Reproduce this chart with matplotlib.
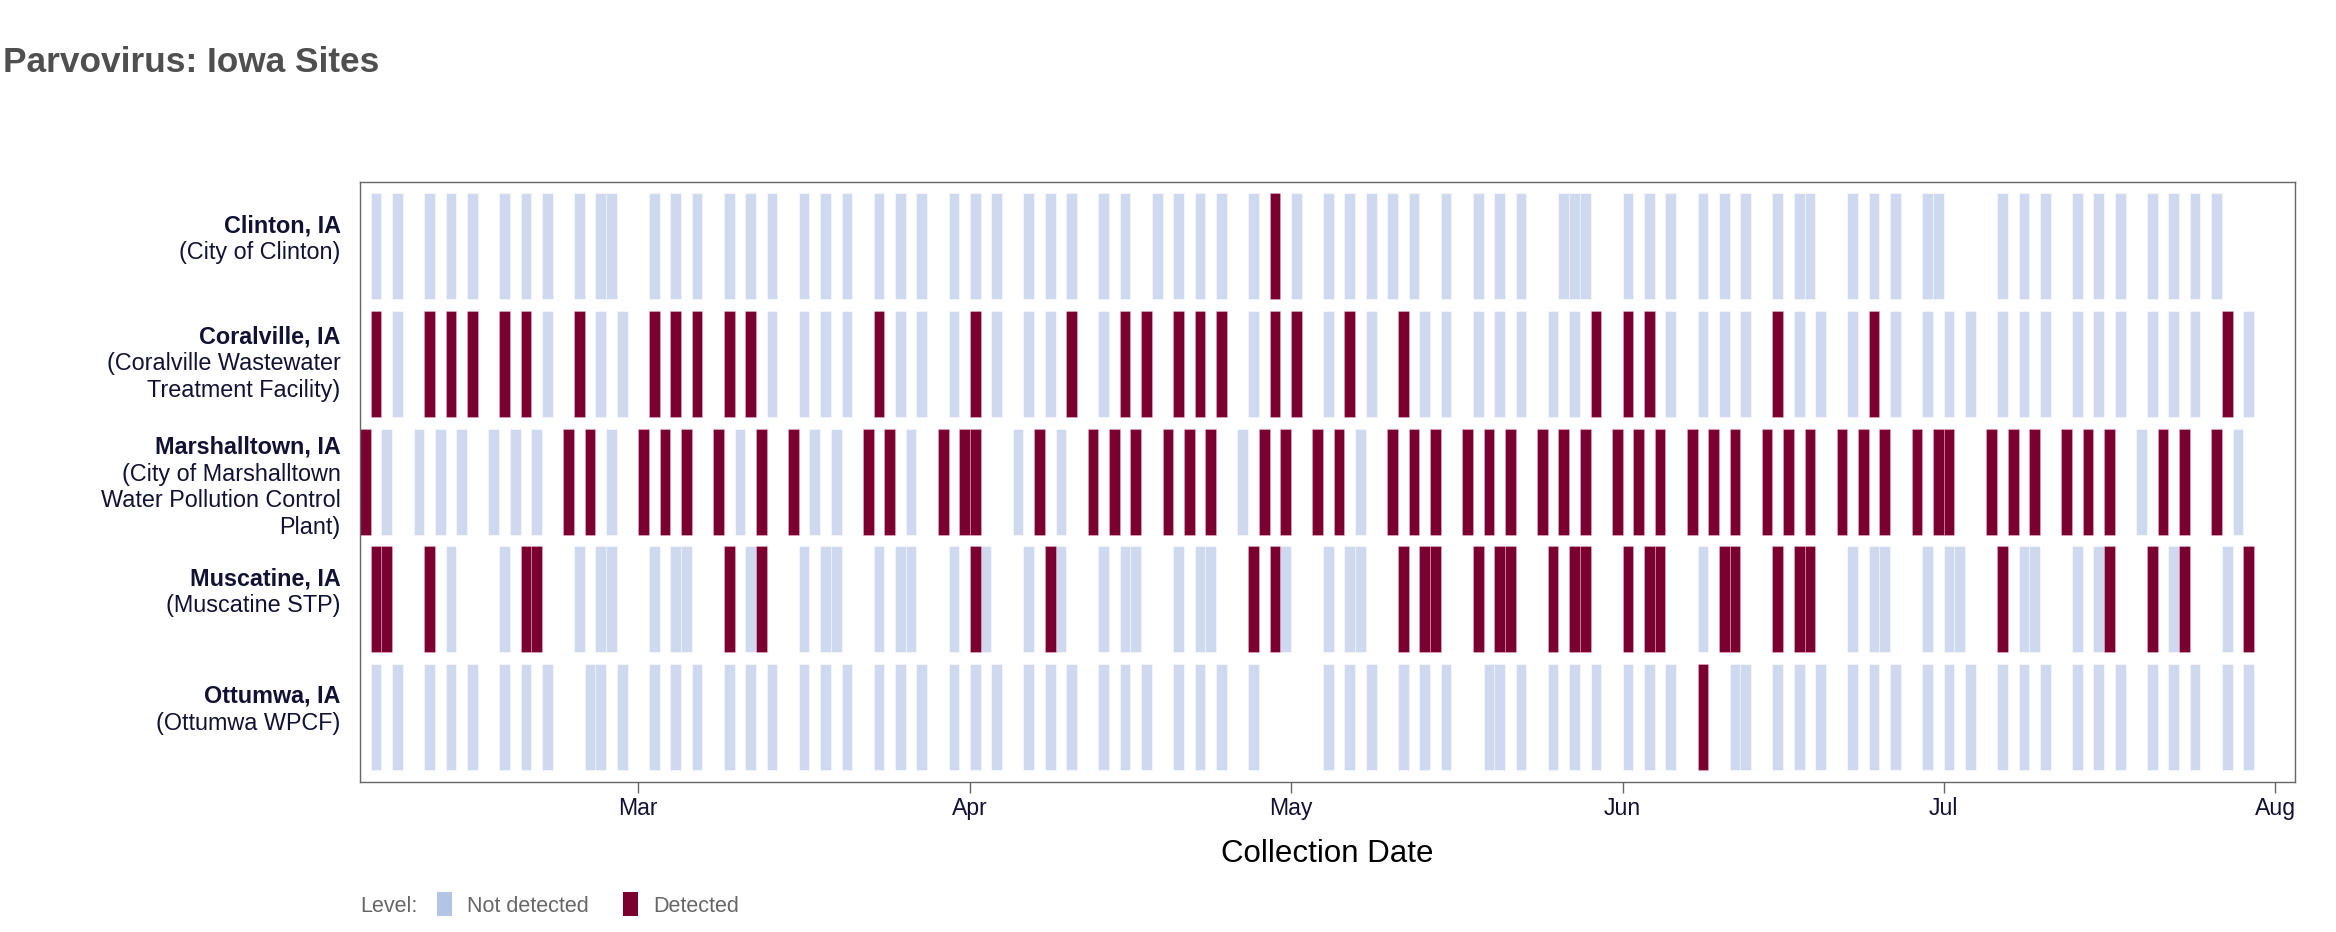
import numpy as np
import matplotlib
matplotlib.use('Agg')
import matplotlib.pyplot as plt
import matplotlib.dates as mdates
import matplotlib.transforms as mtrans
from matplotlib.patches import Rectangle

plt.rcParams['font.family'] = ['Liberation Sans', 'DejaVu Sans']

# ---------------- data ----------------
START_DATE = np.datetime64('2024-02-05')   # collection days below are offsets from this date

sites = ["Clinton, IA", "Coralville, IA", "Marshalltown, IA", "Muscatine, IA", "Ottumwa, IA"]
site_details = ["(City of Clinton)",
                "(Coralville Wastewater\nTreatment Facility)",
                "(City of Marshalltown\nWater Pollution Control\nPlant)",
                "(Muscatine STP)",
                "(Ottumwa WPCF)"]

clinton_days = [0, 2, 5, 7, 9, 12, 14, 16, 19, 21, 22, 26, 28, 30, 33, 35, 37, 40, 42, 44, 47, 49, 51, 54,
                56, 58, 61, 63, 65, 68, 70, 73, 75, 77, 79, 82, 84, 86, 89, 91, 93, 95, 97, 100, 103, 105,
                107, 111, 112, 113, 117, 119, 121, 124, 126, 128, 131, 133, 134, 138, 140, 142, 145, 146,
                152, 154, 156, 159, 161, 163, 166, 168, 170, 172]
clinton_detected = [84]

coralville_days = [0, 2, 5, 7, 9, 12, 14, 16, 19, 21, 23, 26, 28, 30, 33, 35, 37, 40, 42, 44, 47, 49, 51,
                   54, 56, 58, 61, 63, 65, 68, 70, 72, 75, 77, 79, 82, 84, 86, 89, 91, 93, 96, 98, 100, 103,
                   105, 107, 110, 112, 114, 117, 119, 121, 124, 126, 128, 131, 133, 135, 138, 140, 142, 145,
                   147, 149, 152, 154, 156, 159, 161, 163, 166, 168, 170, 173, 175]
coralville_detected = [0, 5, 7, 9, 12, 14, 19, 26, 28, 30, 33, 35, 47, 56, 65, 70, 72, 75, 77, 79, 84, 86,
                       91, 96, 114, 117, 119, 131, 140, 173]

marshalltown_days = [-1, 1, 4, 6, 8, 11, 13, 15, 18, 20, 22, 25, 27, 29, 32, 34, 36, 39, 41, 43, 46, 48,
                     50, 53, 55, 56, 60, 62, 64, 67, 69, 71, 74, 76, 78, 81, 83, 85, 88, 90, 92, 95, 97, 99,
                     102, 104, 106, 109, 111, 113, 116, 118, 120, 123, 125, 127, 130, 132, 134, 137, 139,
                     141, 144, 146, 147, 151, 153, 155, 158, 160, 162, 165, 167, 169, 172, 174]
marshalltown_detected = [-1, 18, 20, 25, 27, 29, 32, 36, 39, 46, 48, 53, 55, 56, 62, 67, 69, 71, 74, 76,
                         78, 83, 85, 88, 90, 95, 97, 99, 102, 104, 106, 109, 111, 113, 116, 118, 120, 123,
                         125, 127, 130, 132, 134, 137, 139, 141, 144, 146, 147, 151, 153, 155, 158, 160,
                         162, 167, 169, 172]

muscatine_days = [0, 1, 5, 7, 12, 14, 15, 19, 21, 22, 26, 28, 29, 33, 35, 36, 40, 42, 43, 47, 49, 50, 54,
                  56, 57, 61, 63, 64, 68, 70, 71, 75, 77, 78, 82, 84, 85, 89, 91, 92, 96, 98, 99, 103, 105,
                  106, 110, 112, 113, 117, 119, 120, 124, 126, 127, 131, 133, 134, 138, 140, 141, 145, 147,
                  148, 152, 154, 155, 159, 161, 162, 166, 168, 169, 173, 175]
muscatine_detected = [0, 1, 5, 14, 15, 33, 36, 56, 63, 82, 84, 96, 98, 99, 103, 105, 106, 110, 112, 113,
                      117, 119, 120, 126, 127, 131, 133, 134, 152, 162, 166, 169, 175]

ottumwa_days = [0, 2, 5, 7, 9, 12, 14, 16, 20, 21, 23, 26, 28, 30, 33, 35, 37, 40, 42, 44, 47, 49, 51, 54,
                56, 58, 61, 63, 65, 68, 70, 72, 75, 77, 79, 82, 89, 91, 93, 96, 98, 100, 104, 105, 107, 110,
                112, 114, 117, 119, 121, 124, 127, 128, 131, 133, 135, 138, 140, 142, 145, 147, 149, 152,
                154, 156, 159, 161, 163, 166, 168, 170, 173, 175]
ottumwa_detected = [124]

site_days = [clinton_days, coralville_days, marshalltown_days, muscatine_days, ottumwa_days]
site_detected = [clinton_detected, coralville_detected, marshalltown_detected, muscatine_detected,
                 ottumwa_detected]

month_ticks = ['2024-03-01', '2024-04-01', '2024-05-01', '2024-06-01', '2024-07-01', '2024-08-01']
month_labels = ['Mar', 'Apr', 'May', 'Jun', 'Jul', 'Aug']
x_range = ['2024-02-04T00:00', '2024-08-02T20:10']

level_labels = ['Not detected', 'Detected']

# ---------------- style ----------------
W, H = 2336, 932
C_NOT = '#b4c4e6'
C_DET = '#7a0030'
TXT = '#111133'
AXC = '#666666'

fig = plt.figure(figsize=(W / 100, H / 100), dpi=100)
ax_l, ax_r, ax_t, ax_b = 360, 2295, 181.7, 781.7
ax = fig.add_axes([ax_l / W, 1 - ax_b / H, (ax_r - ax_l) / W, (ax_b - ax_t) / H])

for i, (days, det) in enumerate(zip(site_days, site_detected)):
    days = np.array(days)
    is_det = np.isin(days, det)
    dates = mdates.date2num(START_DATE + days.astype('timedelta64[D]'))
    ax.bar(dates[~is_det], 0.9, width=1, bottom=i - 0.45, align='edge',
           color=C_NOT, alpha=0.65, edgecolor=(1, 1, 1, 0.6), linewidth=0.5)
    ax.bar(dates[is_det], 0.9, width=1, bottom=i - 0.45, align='edge',
           color=C_DET, edgecolor=(1, 0.8, 0.9, 0.5), linewidth=0.5)

ax.set_xlim(mdates.date2num(np.datetime64(x_range[0])), mdates.date2num(np.datetime64(x_range[1])))
ax.set_ylim(len(sites) - 1 + 0.55, -0.55)

ax.set_xticks(mdates.date2num(np.array(month_ticks, dtype='datetime64[D]')))
ax.set_xticklabels(month_labels)
ax.set_yticks([])
ax.tick_params(axis='x', direction='out', length=7.7, width=1.0, color=AXC,
               labelsize=16.6, labelcolor=TXT, pad=3)
for sp in ax.spines.values():
    sp.set_color(AXC)
    sp.set_linewidth(1.0)

# y labels (multi-line, first line bold)
base = mtrans.blended_transform_factory(ax.transAxes, ax.transData)
for i, (name, detail) in enumerate(zip(sites, site_details)):
    lines = [name] + detail.split('\n')
    n = len(lines)
    for j, line in enumerate(lines):
        off = -14 - 6.85 * (n - 2) + 26.7 * j
        tr = base + mtrans.ScaledTranslation(-19.3 / 100, -off / 100, fig.dpi_scale_trans)
        ax.text(0, i, line, transform=tr, ha='right', va='baseline', fontsize=16.8,
                fontweight='bold' if j == 0 else 'normal', color=TXT)

# axis title
fig.text((ax_l + ax_r) / 2 / W, 1 - 862.3 / H, 'Collection Date', ha='center', va='baseline',
         fontsize=22.5, color='black')

# title
fig.text(3 / W, 1 - 72.3 / H, 'Parvovirus: Iowa Sites', ha='left', va='baseline',
         fontsize=25.4, fontweight='bold', color='#4f4f4f')

# legend
leg_base = 1 - 912.3 / H
fig.text(360.7 / W, leg_base, 'Level:', fontsize=15.5, color=AXC, va='baseline')
for x_sw, x_tx, col, lab in [(436.7, 467.3, C_NOT, level_labels[0]), (622.7, 653.3, C_DET, level_labels[1])]:
    fig.patches.append(Rectangle((x_sw / W, 1 - 915.7 / H), 15.6 / W, 24 / H,
                                 transform=fig.transFigure, facecolor=col, edgecolor='none'))
    fig.text(x_tx / W, leg_base, lab, fontsize=15.5, color=AXC, va='baseline')

fig.savefig('out.png', dpi=100, facecolor='white')
